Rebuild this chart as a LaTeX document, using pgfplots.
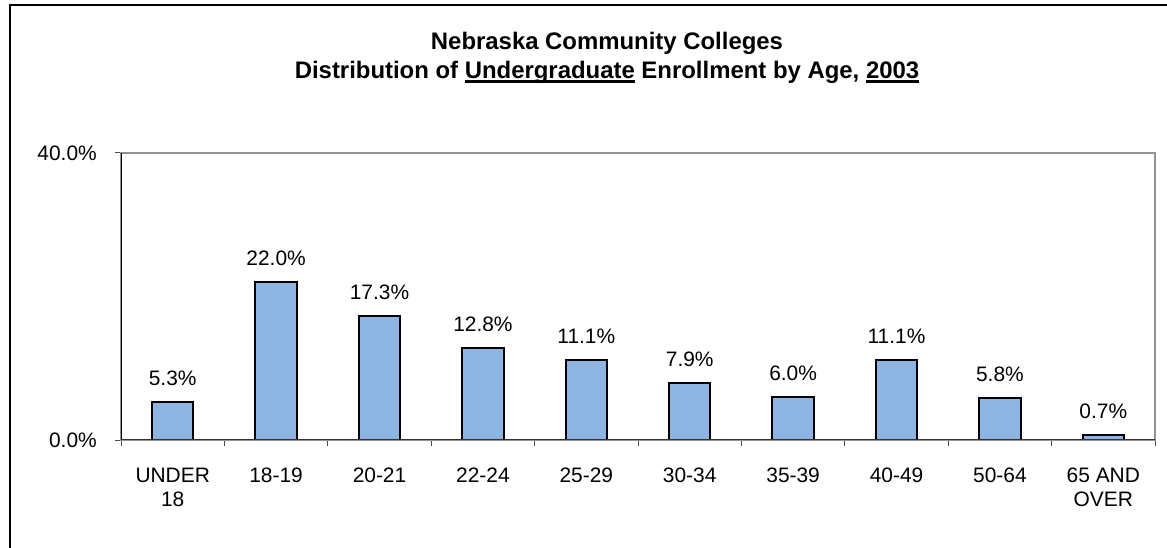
\documentclass[border=0pt]{standalone}
\usepackage{fontspec}
\setmainfont{Liberation Sans}
\usepackage{pgfplots}
\pgfplotsset{compat=1.18}
\definecolor{barblue}{RGB}{142,180,227}
\newsavebox\ulbox
\newcommand\ul[1]{\sbox\ulbox{#1}\rlap{\rule[-4bp]{\wd\ulbox}{2.5bp}}\usebox\ulbox}
\begin{document}
\begin{tikzpicture}
\useasboundingbox (0,0) rectangle (1167bp,548bp);
\draw[line width=2bp] (9.5bp,0) -- (9.5bp,542.5bp) -- (1167bp,542.5bp);
\node[font=\fontsize{24}{28}\selectfont\bfseries, anchor=base, inner sep=0pt] at (607bp,498bp)
  {Nebraska Community Colleges};
\node[font=\fontsize{24}{28}\selectfont\bfseries, anchor=base, inner sep=0pt] at (607bp,469bp)
  {Distribution of \ul{Undergraduate} Enrollment by Age, \ul{2003}};
\begin{axis}[
  at={(121bp,108bp)}, anchor=south west,
  scale only axis, width=1034bp, height=287bp,
  font=\fontsize{21}{24}\selectfont,
  /pgf/number format/assume math mode=true,
  xmin=-0.5, xmax=9.5, ymin=0, ymax=40,
  axis line style={draw=gray!85, line width=1.3bp},
  ybar, bar width=41.5bp,
  xtick={0,...,9},
  xticklabels={UNDER\\18,18-19,20-21,22-24,25-29,30-34,35-39,40-49,50-64,65 AND\\OVER},
  xticklabel style={align=center, inner sep=0pt, yshift=-22bp},
  major x tick style={draw=none},
  minor xtick={-0.5,0.5,...,9.5},
  minor tick length=6bp,
  minor x tick style={draw=black!70, line width=1bp},
  xtick pos=bottom, ytick pos=left,
  tick align=outside,
  ytick={0,40}, yticklabels={0.0\%,40.0\%},
  major tick length=6bp,
  y tick style={draw=black!70, line width=1bp},
  yticklabel style={inner sep=0pt, xshift=-18bp},
  nodes near coords={\pgfmathprintnumber[fixed,fixed zerofill,precision=1]{\pgfplotspointmeta}\%},
  every node near coord/.append style={inner sep=0pt, yshift=15.5bp, font=\fontsize{21}{24}\selectfont},
]
\addplot[fill=barblue, draw=black, line width=2bp] coordinates {
(0,5.3) (1,22.0) (2,17.3) (3,12.8) (4,11.1) (5,7.9) (6,6.0) (7,11.1) (8,5.8) (9,0.7)};
\draw[black, line width=1.5bp] (rel axis cs:0,0) -- (rel axis cs:0,1);
\draw[black!80, line width=1.5bp] (rel axis cs:0,0) -- (rel axis cs:1,0);
\end{axis}
\end{tikzpicture}
\end{document}
